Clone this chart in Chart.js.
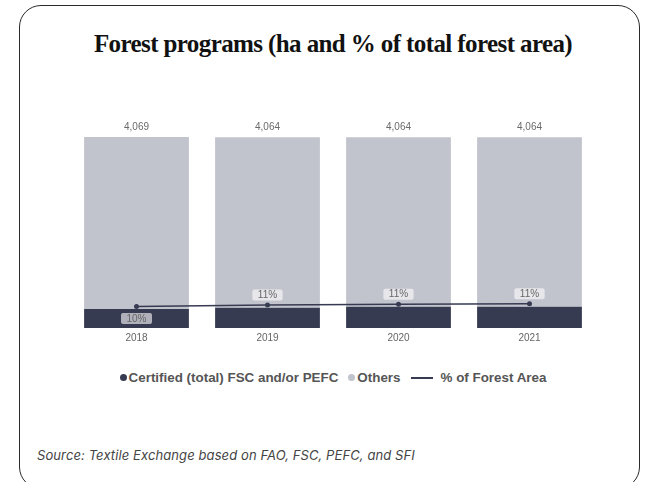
<!DOCTYPE html>
<html>
<head>
<meta charset="UTF-8" />
<title>Forest programs</title>
<script src="https://cdn.jsdelivr.net/npm/chart.js"></script>
<style>
  body { margin: 0; width: 646px; height: 482px; overflow: hidden; background: #fff; position: relative; font-family: "Liberation Sans", Arial, sans-serif; }
  .card {
    position: absolute; left: 19px; top: 5px; width: 621px; height: 484px;
    border: 1.5px solid #2a2a2a; border-radius: 22px; box-sizing: border-box;
  }
  h1 {
    position: absolute; left: 0; width: 666px; top: 30px; margin: 0;
    text-align: center; font-family: "Liberation Serif", serif; font-weight: bold;
    font-size: 25px; letter-spacing: -0.6px; color: #111;
  }
  .chart-box { position: absolute; left: 67px; top: 105px; width: 532px; height: 243px; }
  .legend {
    position: absolute; left: 0; width: 666px; top: 370px; display: flex; justify-content: center;
    align-items: center; font-weight: bold; font-size: 13.4px; color: #555; gap: 10px;
  }
  .legend span.item { display: flex; align-items: center; gap: 2px; }
  .dot { width: 7px; height: 7px; border-radius: 50%; display: inline-block; }
  .ln { width: 22px; height: 2px; background: #373b52; display: inline-block; margin-right: 6px; }
  .source {
    position: absolute; left: 37px; top: 447px; font-family: Inter, Roboto, sans-serif; font-style: italic;
    font-size: 13px; letter-spacing: 0.1px; color: #444;
  }
</style>
</head>
<body>
  <div class="card"></div>
  <h1>Forest programs (ha and % of total forest area)</h1>
  <div class="chart-box"><canvas id="chart"></canvas></div>
  <div class="legend" id="legend"></div>
  <div class="source">Source: Textile Exchange based on FAO, FSC, PEFC, and SFI</div>

<script>
  const years = ['2018', '2019', '2020', '2021']
  const certified = [405, 432, 453, 453]
  const others = [3664, 3632, 3611, 3611]
  const pctForest = [10.0, 10.6, 11.0, 11.2]

  const darkColor = '#373b52'
  const lightColor = '#c2c4cd'

  // labels: totals over the stacks, boxed % next to the line points
  const labelPlugin = {
    id: 'labels',
    afterDatasetsDraw(chart) {
      const ctx = chart.ctx
      const topMeta = chart.getDatasetMeta(1)
      const lineMeta = chart.getDatasetMeta(2)
      ctx.save()
      ctx.font = '10px "Liberation Sans", Arial, sans-serif'
      ctx.textAlign = 'center'
      ctx.textBaseline = 'middle'
      topMeta.data.forEach((el, i) => {
        const total = certified[i] + others[i]
        ctx.fillStyle = '#6a6a6a'
        ctx.fillText(total.toLocaleString('en-US'), el.x, el.y - 10)
      })
      lineMeta.data.forEach((el, i) => {
        const txt = Math.round(pctForest[i]) + '%'
        const y = i === 0 ? el.y + 12 : el.y - 10
        const w = ctx.measureText(txt).width + 11
        const h = 11
        ctx.fillStyle = 'rgba(255,255,255,0.6)'
        ctx.beginPath()
        ctx.roundRect(el.x - w / 2, y - h / 2, w, h, 2)
        ctx.fill()
        ctx.fillStyle = '#666'
        ctx.fillText(txt, el.x, y + 0.5)
      })
      ctx.restore()
    }
  }

  new Chart(document.getElementById('chart').getContext('2d'), {
    type: 'bar',
    data: {
      labels: years,
      datasets: [
        { label: 'Certified (total) FSC and/or PEFC', data: certified, backgroundColor: darkColor, stack: 's', order: 1 },
        { label: 'Others', data: others, backgroundColor: lightColor, stack: 's', order: 1 },
        {
          type: 'line', label: '% of Forest Area', data: pctForest, yAxisID: 'y2', order: 0,
          borderColor: darkColor, borderWidth: 1.5, pointRadius: 2.5, pointBackgroundColor: darkColor,
          pointBorderWidth: 0
        }
      ]
    },
    options: {
      responsive: true,
      maintainAspectRatio: false,
      animation: false,
      layout: { padding: { top: 7, bottom: 0, left: 0, right: 0 } },
      datasets: { bar: { barPercentage: 0.8, categoryPercentage: 1.0 } },
      scales: {
        x: {
          stacked: true,
          grid: { display: false, drawTicks: false },
          border: { display: false },
          ticks: { color: '#666', font: { size: 10, family: '"Liberation Sans", Arial, sans-serif' }, padding: 4 }
        },
        y: { stacked: true, display: false, min: 0, max: 4600 },
        y2: { display: false, min: 0, max: 100 }
      },
      plugins: {
        legend: { display: false },
        tooltip: { enabled: false }
      }
    },
    plugins: [labelPlugin]
  })

  const legendItems = [
    { text: 'Certified (total) FSC and/or PEFC', kind: 'dot', color: darkColor },
    { text: 'Others', kind: 'dot', color: lightColor },
    { text: '% of Forest Area', kind: 'line', color: darkColor }
  ]
  document.getElementById('legend').innerHTML = legendItems.map(it =>
    `<span class="item">${it.kind === 'dot'
      ? `<span class="dot" style="background:${it.color}"></span>`
      : `<span class="ln"></span>`}${it.text}</span>`).join('')
</script>
</body>
</html>
